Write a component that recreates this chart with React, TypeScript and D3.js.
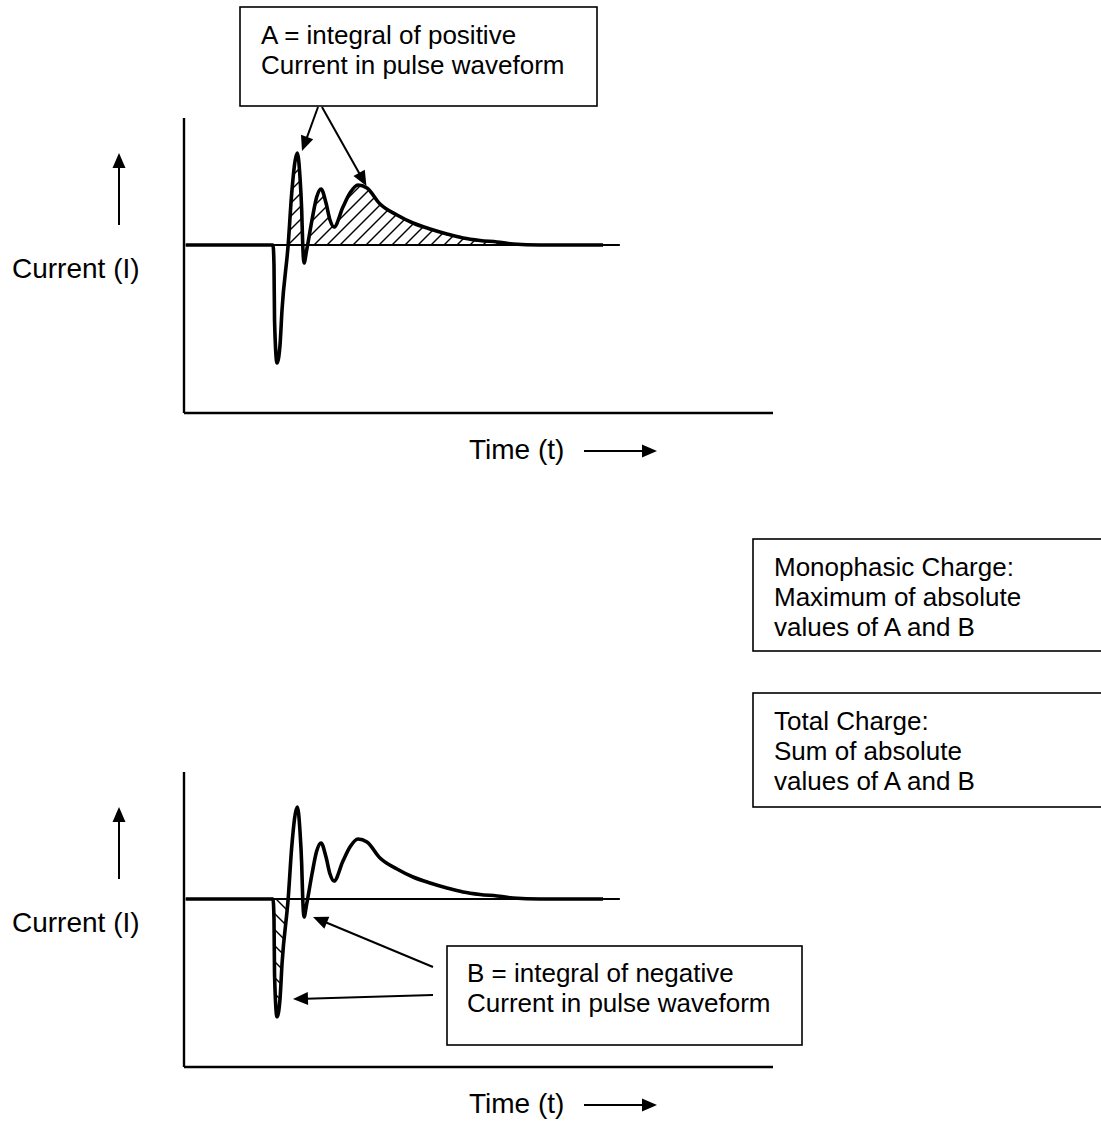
import React from 'react';
import * as d3 from 'd3';

// ---- data (time units / current units) ----
const waveTime = [0.3, 15.11, 15.28, 15.37, 15.79, 16.3, 16.64, 17.71, 18.29, 19.24, 19.69, 19.98, 20.15, 20.37, 20.83, 21.73, 22.53, 23.26, 24.11, 24.79, 25.47, 26.99, 28.18, 29.54, 31.07, 33.28, 36.16, 38.88, 41.77, 44.65, 47.37, 50.25, 53.14, 55.86, 60.44, 71.14];
const waveCurrent = [0, 0, -0.2, -0.75, -1.18, -1.0, -0.65, 0.02, 0.52, 0.92, 0.68, 0.35, 0.02, -0.18, -0.05, 0.25, 0.48, 0.56, 0.42, 0.25, 0.18, 0.38, 0.52, 0.6, 0.57, 0.41, 0.3, 0.22, 0.16, 0.11, 0.07, 0.045, 0.03, 0.01, 0, 0];
const baselineStart = 0.3;
const baselineEnd = 74;
const xDomain: [number, number] = [0, 100];
const yDomain: [number, number] = [-1.68, 1.27];

const boxALines = ['A = integral of positive', 'Current in pulse waveform'];
const boxBLines = ['B = integral of negative', 'Current in pulse waveform'];
const monoLines = ['Monophasic Charge:', 'Maximum of absolute', 'values of A and B'];
const totalLines = ['Total Charge:', 'Sum of absolute', 'values of A and B'];
const yLabel = 'Current (I)';
const xLabel = 'Time (t)';

// arrow targets in data units
const arrowATargets = [[20.03, 0.94], [30.98, 0.59]];
const arrowBTargets = [[21.9, -0.18], [18.5, -1.0]];

const FONT = '"Liberation Sans", Arial, Helvetica, sans-serif';

function Arrow({ x1, y1, x2, y2, w = 2, head = 15, hw = 6.5 }: any) {
  const dx = x2 - x1, dy = y2 - y1;
  const len = Math.sqrt(dx * dx + dy * dy);
  const ux = dx / len, uy = dy / len;
  const bx = x2 - ux * head, by = y2 - uy * head;
  const px = -uy, py = ux;
  const pts = `${x2},${y2} ${bx + px * hw},${by + py * hw} ${bx - px * hw},${by - py * hw}`;
  return (
    <g>
      <line x1={x1} y1={y1} x2={bx + ux * 2} y2={by + uy * 2} stroke="#000" strokeWidth={w} />
      <polygon points={pts} fill="#000" />
    </g>
  );
}

function TextBox({ x, y, w, h, lines, tx, ty, lh }: any) {
  return (
    <g>
      <rect x={x} y={y} width={w} height={h} fill="#fff" stroke="#000" strokeWidth={1.6} />
      <text fontFamily={FONT} fontSize={26} fill="#000">
        {lines.map((l: string, i: number) => (
          <tspan key={i} x={tx} y={ty + i * lh}>{l}</tspan>
        ))}
      </text>
    </g>
  );
}

function Panel({ x, y, id, hatch }: any) {
  const pts: [number, number][] = waveTime.map((t, i) => [t, waveCurrent[i]]);
  const line = d3.line<[number, number]>().x(d => x(d[0])).y(d => y(d[1])).curve(d3.curveMonotoneX);
  const area = d3.area<[number, number]>().x(d => x(d[0])).y0(y(0)).y1(d => y(d[1])).curve(d3.curveMonotoneX);
  const y0 = y(0);
  const hatchLines: number[][] = [];
  if (hatch === 'pos') {
    const h = y0 - y(yDomain[1]);
    for (let sx = x(0); sx < x(baselineEnd); sx += 13) hatchLines.push([sx, y0, sx + h, y0 - h]);
  } else {
    const h = y(yDomain[0]) - y0;
    for (let sx = x(0) - 4; sx < x(baselineEnd); sx += 16) hatchLines.push([sx, y0, sx + h, y0 + h]);
  }
  return (
    <g>
      <defs>
        <clipPath id={id}>
          <path d={area(pts) || ''} />
        </clipPath>
      </defs>
      <g clipPath={`url(#${id})`}>
        {hatchLines.map((l, i) => (
          <line key={i} x1={l[0]} y1={l[1]} x2={l[2]} y2={l[3]} stroke="#000" strokeWidth={1.4} />
        ))}
      </g>
      <line x1={x(baselineStart)} x2={x(baselineEnd)} y1={y0} y2={y0} stroke="#000" strokeWidth={1.8} />
      <path d={line(pts) || ''} fill="none" stroke="#000" strokeWidth={3.6} strokeLinejoin="round" />
      <line x1={x(0)} x2={x(0)} y1={y(yDomain[0])} y2={y(yDomain[1])} stroke="#000" strokeWidth={2.4} />
      <line x1={x(0)} x2={x(xDomain[1])} y1={y(yDomain[0])} y2={y(yDomain[0])} stroke="#000" strokeWidth={2.4} />
    </g>
  );
}

export default function App() {
  const x = d3.scaleLinear().domain(xDomain).range([184, 773]);
  const yTop = d3.scaleLinear().domain(yDomain).range([413, 118]);
  const yBot = d3.scaleLinear().domain(yDomain).range([1067, 772]);
  const offs = [0, 654];
  return (
    <svg width={1101} height={1121} style={{ position: 'absolute', left: 0, top: 0, background: '#fff' }}>
      <rect x={0} y={0} width={1101} height={1121} fill="#fff" />
      <Panel x={x} y={yTop} id="clipTop" hatch="pos" />
      <Panel x={x} y={yBot} id="clipBot" hatch="neg" />

      {offs.map((o, i) => (
        <g key={i}>
          <Arrow x1={119} y1={225 + o} x2={119} y2={153 + o} />
          <text x={12} y={278 + o} fontFamily={FONT} fontSize={28}>{yLabel}</text>
          <text x={469} y={459 + o} fontFamily={FONT} fontSize={28}>{xLabel}</text>
          <Arrow x1={584} y1={451 + o} x2={657} y2={451 + o} />
        </g>
      ))}

      <TextBox x={240} y={7} w={357} h={99} lines={boxALines} tx={261} ty={44} lh={30} />
      <Arrow x1={318} y1={107} x2={x(arrowATargets[0][0])} y2={yTop(arrowATargets[0][1])} />
      <Arrow x1={322} y1={107} x2={x(arrowATargets[1][0])} y2={yTop(arrowATargets[1][1])} />

      <TextBox x={753} y={539} w={360} h={112} lines={monoLines} tx={774} ty={576} lh={30} />
      <TextBox x={753} y={693} w={360} h={114} lines={totalLines} tx={774} ty={730} lh={30} />

      <TextBox x={447} y={946} w={355} h={99} lines={boxBLines} tx={467} ty={982} lh={30} />
      <Arrow x1={433} y1={967} x2={x(arrowBTargets[0][0])} y2={yBot(arrowBTargets[0][1])} />
      <Arrow x1={433} y1={995} x2={x(arrowBTargets[1][0])} y2={yBot(arrowBTargets[1][1])} />
    </svg>
  );
}
